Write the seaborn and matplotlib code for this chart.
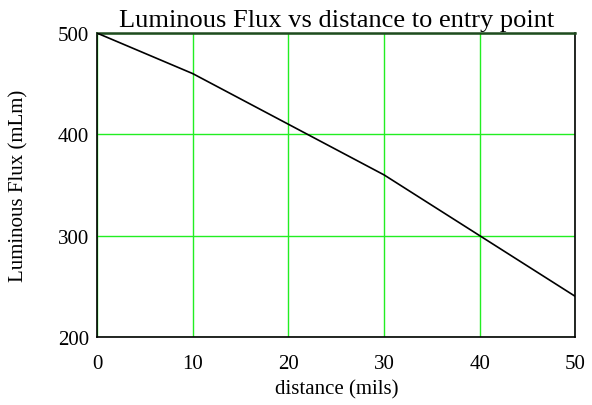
import matplotlib
matplotlib.use("Agg")
import matplotlib.pyplot as plt
import seaborn as sns
import pandas as pd

distance = [0, 10, 20, 30, 40, 50]
flux = [500, 460, 410, 360, 300, 240]
x_ticks = [0, 10, 20, 30, 40, 50]
y_ticks = [200, 300, 400, 500]

sns.set_theme(style="white")
plt.rcParams['font.family'] = ['Liberation Serif', 'DejaVu Serif']

df = pd.DataFrame({"distance": distance, "flux": flux})
fig = plt.figure(figsize=(5.92, 4.06), dpi=100)
ax = fig.add_axes([0.164, 0.1675, 0.808, 0.7485])

ax.set_xlim(0, 50)
ax.set_ylim(200, 500)
ax.set_xticks(x_ticks)
ax.set_yticks(y_ticks)
ax.grid(True, color='#22ee22', linewidth=1.0)
ax.set_axisbelow(True)

sns.lineplot(data=df, x="distance", y="flux", ax=ax, color='black', linewidth=1.2, zorder=3)

for s in ['left', 'right', 'bottom']:
    ax.spines[s].set_color('black')
    ax.spines[s].set_linewidth(1.2)
ax.spines['top'].set_color('#1f4a1f')
ax.spines['top'].set_linewidth(1.8)

ax.tick_params(axis='both', length=0, labelsize=15, colors='black')
ax.tick_params(axis='y', pad=6)
ax.tick_params(axis='x', pad=12)
ax.set_xlabel("distance (mils)", fontsize=15, labelpad=5, color='black')
ax.set_ylabel("Luminous Flux (mLm)", fontsize=15, labelpad=21, color='black')
ax.set_title("Luminous Flux vs distance to entry point", fontsize=19, pad=5, color='black')

fig.savefig("out.png", dpi=100)
